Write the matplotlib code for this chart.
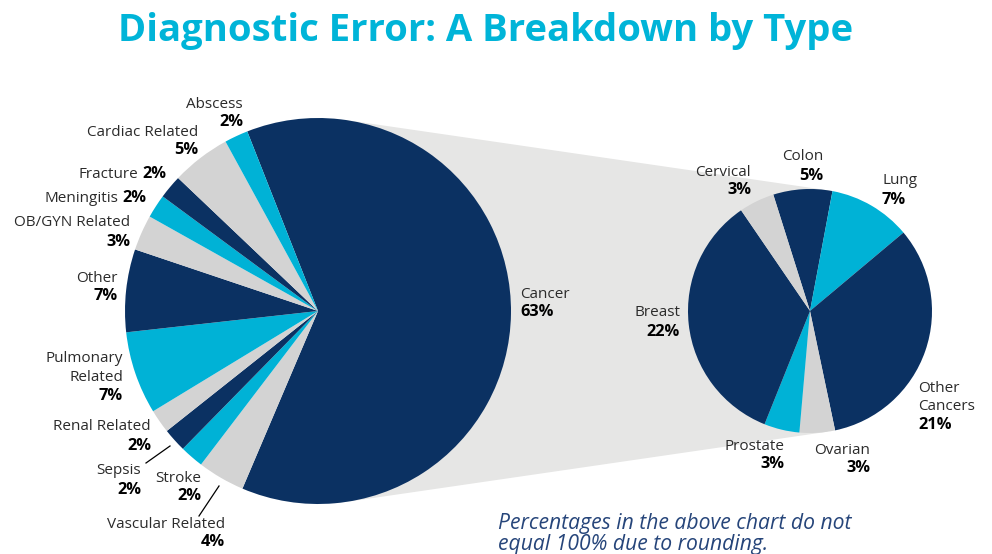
import matplotlib
matplotlib.use("Agg")
import matplotlib.pyplot as plt
import numpy as np
from matplotlib.patches import Polygon

# colours
NAVY = "#0b3162"
CYAN = "#00b2d6"
GRAY = "#d3d3d3"
BAND = "#e6e6e5"
TEXT = "#2b2b2b"
TITLE = "#00b4d8"
NOTE = "#26457a"

# %% data
# main pie, clockwise from the top edge of the Cancer wedge
main_labels = ["Cancer", "Vascular Related", "Stroke", "Sepsis", "Renal Related",
               "Pulmonary Related", "Other", "OB/GYN Related", "Meningitis",
               "Fracture", "Cardiac Related", "Abscess"]
main_values = [63, 4, 2, 2, 2, 7, 7, 3, 2, 2, 5, 2]
main_colors = [NAVY, GRAY, CYAN, NAVY, GRAY, CYAN, NAVY, GRAY, CYAN, NAVY, GRAY, CYAN]

# cancer breakdown, clockwise from Colon
cancer_labels = ["Colon", "Lung", "Other Cancers", "Ovarian", "Prostate", "Breast", "Cervical"]
cancer_values = [5, 7, 21, 3, 3, 22, 3]
cancer_colors = [NAVY, CYAN, NAVY, GRAY, CYAN, NAVY, GRAY]

# %% layout (pixel coordinates, y measured from the top)
W, H = 992, 554
FONT = "Open Sans"
SIZE = 11
PCT_SIZE = 11.8
LINE = 18.5

main_center, main_r = (318, 311), 193
sub_center, sub_r = (810, 311), 122

# label text lines, x, y of first line, alignment, percentage inline?
label_layout = {
    "Cancer": (["Cancer"], 520, 294, "left", False),
    "Abscess": (["Abscess"], 243, 104, "right", False),
    "Cardiac Related": (["Cardiac Related"], 198, 132, "right", False),
    "Fracture": (["Fracture"], 166, 174, "right", True),
    "Meningitis": (["Meningitis"], 146, 198, "right", True),
    "OB/GYN Related": (["OB/GYN Related"], 130, 223, "right", False),
    "Other": (["Other"], 118, 278, "right", False),
    "Pulmonary Related": (["Pulmonary", "Related"], 123, 359, "right", False),
    "Renal Related": (["Renal Related"], 151, 427, "right", False),
    "Sepsis": (["Sepsis"], 141, 471, "right", False),
    "Stroke": (["Stroke"], 201, 478, "right", False),
    "Vascular Related": (["Vascular Related"], 225, 524, "right", False),
    "Colon": (["Colon"], 823, 157, "right", False),
    "Lung": (["Lung"], 882, 181, "left", False),
    "Other Cancers": (["Other", "Cancers"], 918, 388, "left", False),
    "Ovarian": (["Ovarian"], 870, 450, "right", False),
    "Prostate": (["Prostate"], 784, 446, "right", False),
    "Breast": (["Breast"], 680, 313, "right", False),
    "Cervical": (["Cervical"], 751, 172, "right", False),
}
leader_lines = [((146, 463), (170, 446)), ((199, 516), (219, 486))]


def Y(y):
    return H - y


def tangent_band(c1, r1, c2, r2):
    """Polygon between the outer tangents of two circles on one row."""
    d = c2[0] - c1[0]
    s = (r1 - r2) / d
    c = np.sqrt(1 - s ** 2)
    return [
        (c1[0] + r1 * s, Y(c1[1]) + r1 * c),
        (c2[0] + r2 * s, Y(c2[1]) + r2 * c),
        (c2[0] + r2 * s, Y(c2[1]) - r2 * c),
        (c1[0] + r1 * s, Y(c1[1]) - r1 * c),
    ]


fig = plt.figure(figsize=(W / 100, H / 100), dpi=100)
ax = fig.add_axes([0, 0, 1, 1])

ax.add_patch(Polygon(tangent_band(main_center, main_r, sub_center, sub_r),
                     closed=True, facecolor=BAND, edgecolor="none", zorder=0))

ax.pie(main_values, colors=main_colors, startangle=111.5, counterclock=False,
       center=(main_center[0], Y(main_center[1])), radius=main_r,
       wedgeprops=dict(linewidth=0), frame=True)
ax.pie(cancer_values, colors=cancer_colors, startangle=107.5, counterclock=False,
       center=(sub_center[0], Y(sub_center[1])), radius=sub_r,
       wedgeprops=dict(linewidth=0), frame=True)

ax.set_xlim(0, W)
ax.set_ylim(0, H)
ax.set_aspect("equal")
ax.axis("off")

renderer = fig.canvas.get_renderer()
label_values = dict(zip(main_labels + cancer_labels, main_values + cancer_values))

for name, (lines, x, y, ha, inline) in label_layout.items():
    pct = f"{label_values[name]}%"
    if inline:
        p = ax.text(x, Y(y), pct, ha="right", va="center", fontsize=PCT_SIZE,
                    fontweight="bold", color="black", family=FONT)
        bb = p.get_window_extent(renderer)
        ax.text(bb.x0 - 4, Y(y), lines[0], ha="right", va="center",
                fontsize=SIZE, color=TEXT, family=FONT)
        continue
    for i, line in enumerate(lines):
        ax.text(x, Y(y + i * LINE), line, ha=ha, va="center", fontsize=SIZE,
                color=TEXT, family=FONT)
    ax.text(x, Y(y + len(lines) * LINE), pct, ha=ha, va="center", fontsize=PCT_SIZE,
            fontweight="bold", color="black", family=FONT)

for (x0, y0), (x1, y1) in leader_lines:
    ax.plot([x0, x1], [Y(y0), Y(y1)], color="black", lw=0.9)

ax.text(486, Y(31), "Diagnostic Error: A Breakdown by Type", ha="center", va="center",
        fontsize=27.5, fontweight="bold", color=TITLE, family=FONT)

ax.text(498, Y(534), "Percentages in the above chart do not\nequal 100% due to rounding.",
        ha="left", va="center", fontsize=15.2, style="italic", color=NOTE,
        family=FONT, linespacing=1.05)

fig.savefig("out.png", dpi=100)
